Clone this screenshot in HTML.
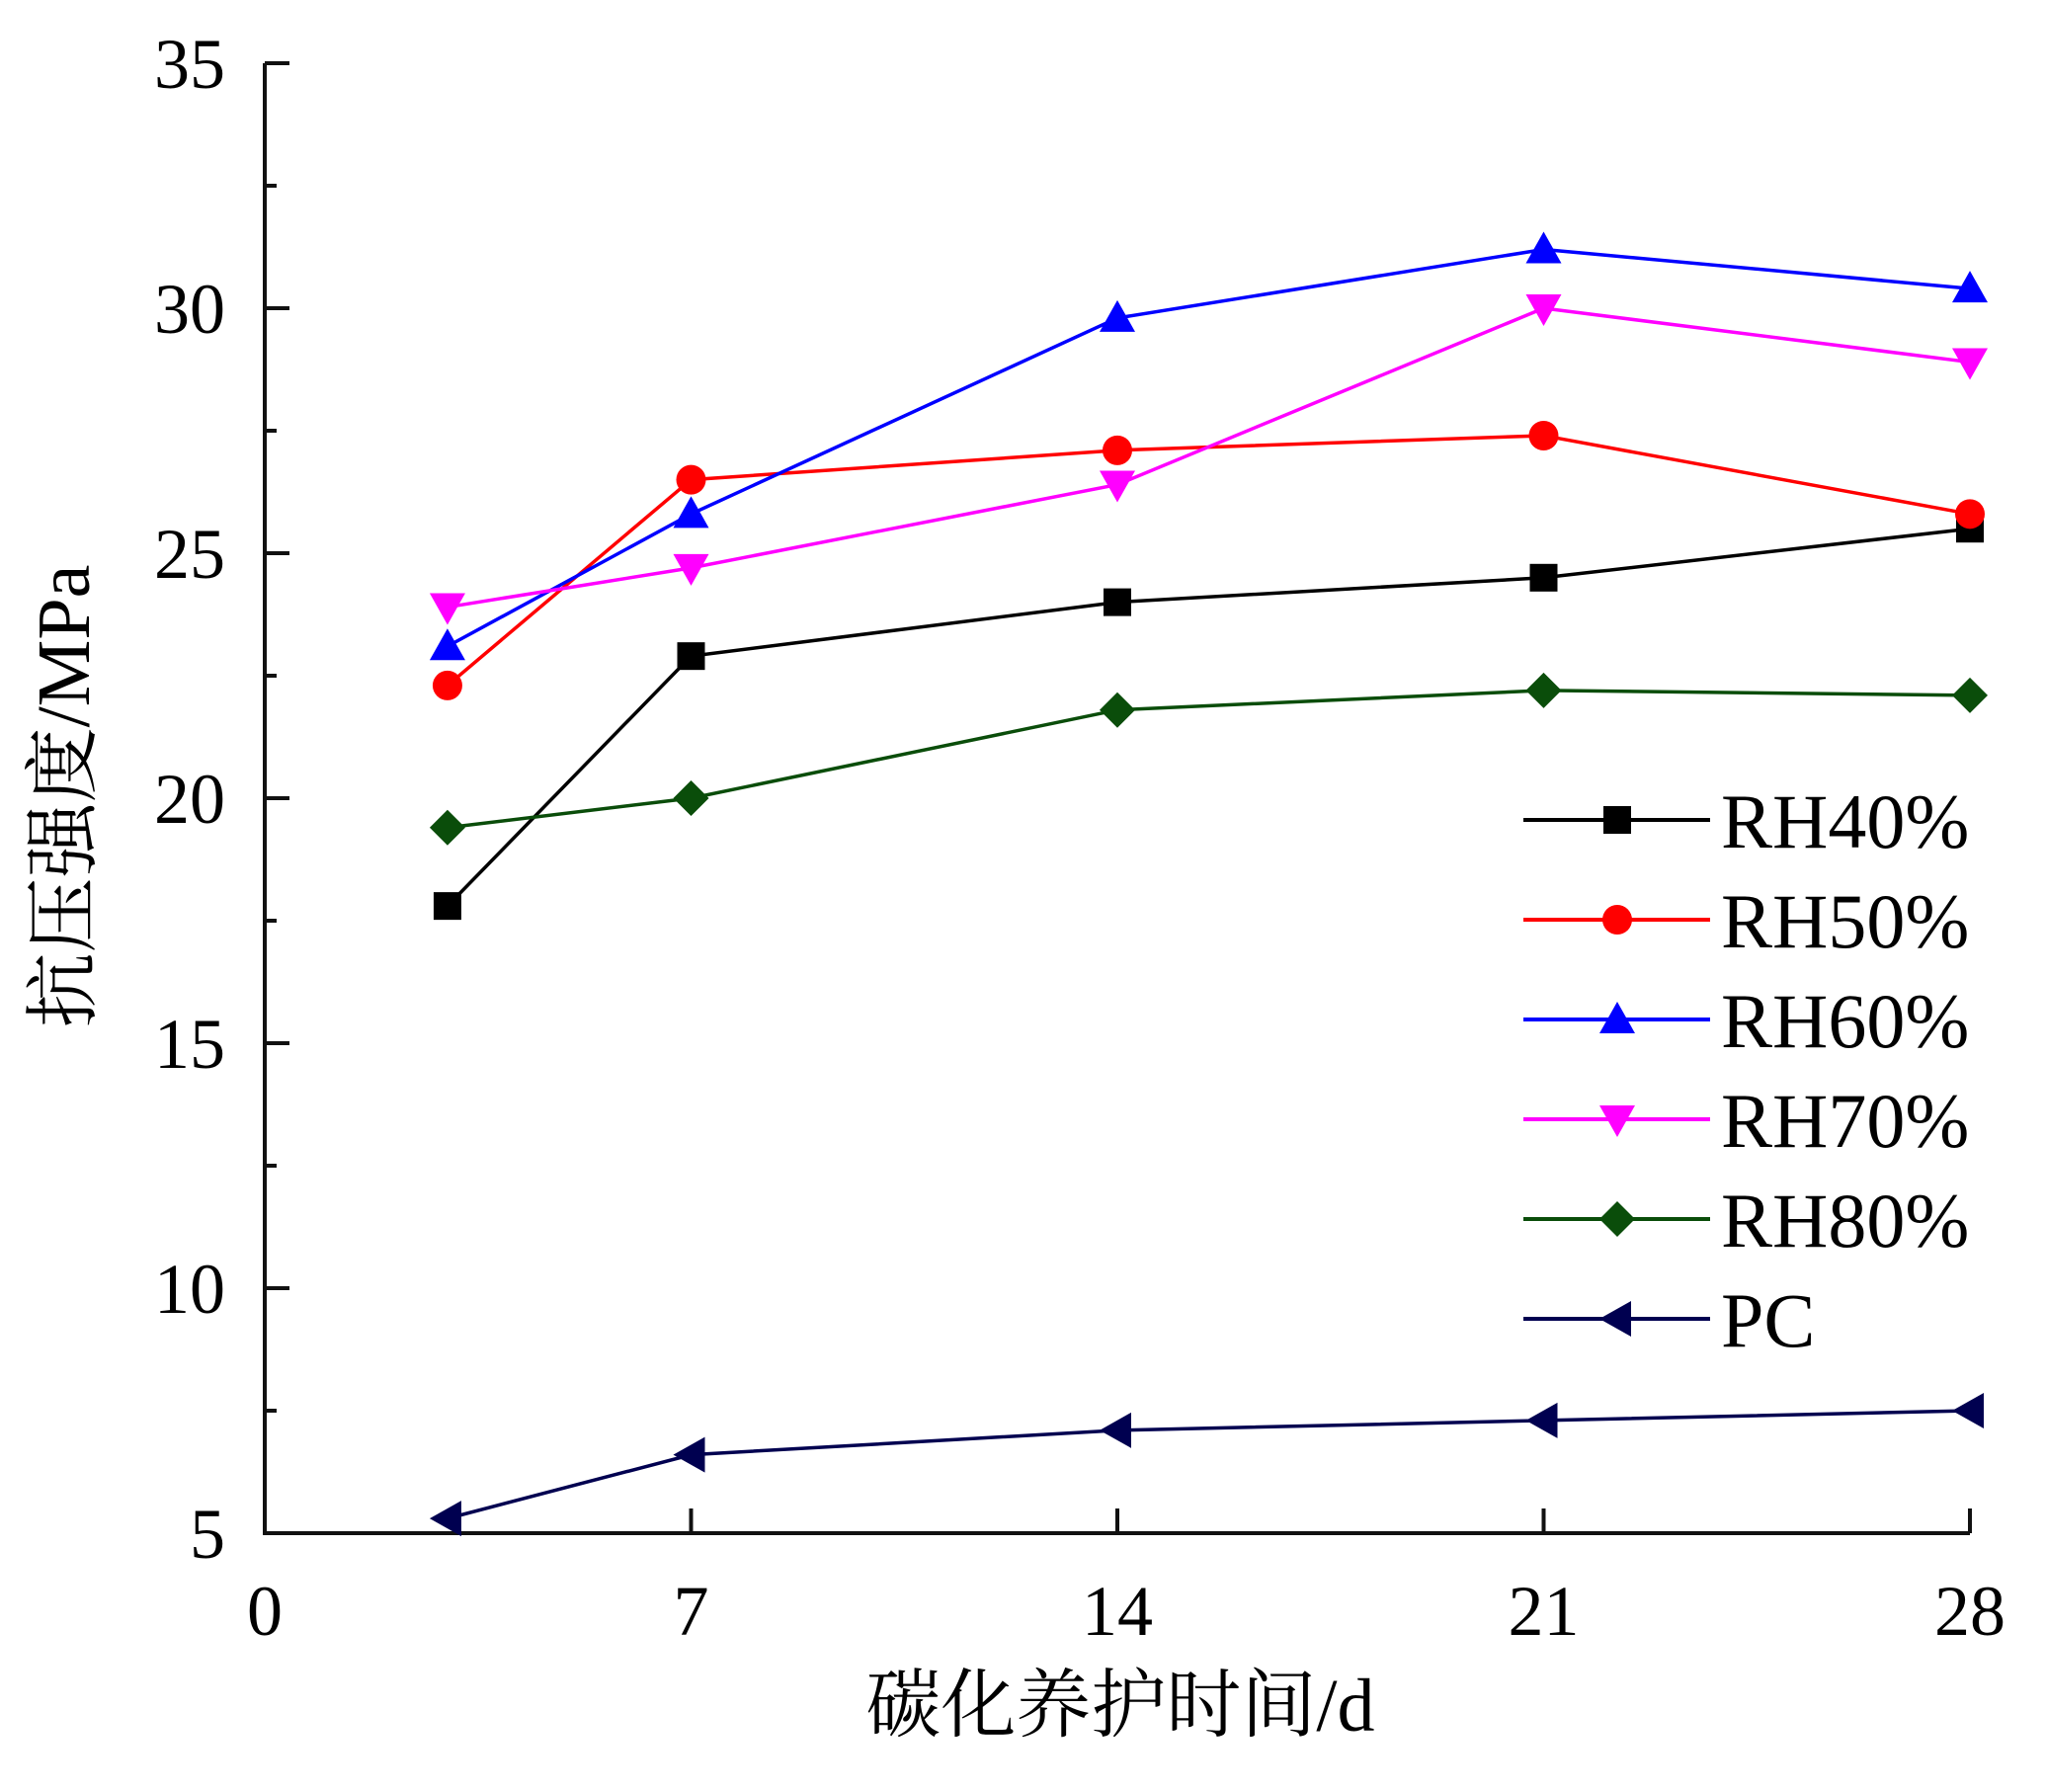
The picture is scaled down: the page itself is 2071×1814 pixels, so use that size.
<!DOCTYPE html>
<html><head><meta charset="utf-8"><style>
body{margin:0;background:#fff}
svg text{font-family:"Liberation Serif","Noto Serif CJK SC",serif;fill:#000}
</style></head><body>
<svg id="chart" width="2071" height="1809" viewBox="0 0 2071 1809" xmlns="http://www.w3.org/2000/svg">
<g id="axes"></g>
<g id="plot"></g>
<g id="legend"></g>
<text x="1134" y="1752" font-size="76" text-anchor="middle">碳化养护时间/d</text>
<text transform="translate(90,806) rotate(-90)" font-size="76" text-anchor="middle">抗压强度/MPa</text>
</svg>
<script>
const days = [3, 7, 14, 21, 28];
const rh40 = [17.8, 22.9, 24.0, 24.5, 25.5];
const rh50 = [22.3, 26.5, 27.1, 27.4, 25.8];
const rh60 = [23.1, 25.8, 29.8, 31.2, 30.4];
const rh70 = [23.9, 24.7, 26.4, 30.0, 28.9];
const rh80 = [19.4, 20.0, 21.8, 22.2, 22.1];
const pc = [5.3, 6.6, 7.1, 7.3, 7.5];
const xTicks = [0, 7, 14, 21, 28];
const yTicks = [5, 10, 15, 20, 25, 30, 35];
const seriesNames = ["RH40%", "RH50%", "RH60%", "RH70%", "RH80%", "PC"];

const NS = "http://www.w3.org/2000/svg";
const X0 = 268, X1 = 1994, Y0 = 1552, Y1 = 64;
const xs = d => X0 + (d - 0) / 28 * (X1 - X0);
const ys = v => Y0 - (v - 5) / 30 * (Y0 - Y1);
function mk(tag, attrs, parent) {
  const e = document.createElementNS(NS, tag);
  for (const k in attrs) e.setAttribute(k, attrs[k]);
  parent.appendChild(e); return e;
}
const axes = document.getElementById('axes');
const plot = document.getElementById('plot');
const legend = document.getElementById('legend');

let a = mk('path', {d: `M${X0},${Y1} V${Y0} H${X1}`, stroke: '#111', 'stroke-width': 4, fill: 'none'}, axes);


for (let v = 5; v <= 35; v += 2.5) {
  const major = (v % 5 === 0);
  const t = mk('line', {x1: X0, x2: X0 + (major ? 25 : 12), y1: ys(v), y2: ys(v), stroke: '#111', 'stroke-width': 4}, axes);
  
  
}
yTicks.forEach(v => {
  const t = mk('text', {x: 228, y: ys(v) + 25, 'font-size': 72, 'text-anchor': 'end'}, axes);
  t.textContent = v;
  
  
});
xTicks.forEach(d => {
  const t = mk('line', {x1: xs(d), x2: xs(d), y1: Y0, y2: Y0 - 25, stroke: '#111', 'stroke-width': 4}, axes);
  
  
  const l = mk('text', {x: xs(d), y: 1655, 'font-size': 72, 'text-anchor': 'middle'}, axes);
  l.textContent = d;
  
  
});

function marker(type, cx, cy, color, parent) {
  const s = 14;
  let e;
  if (type === 'square') e = mk('rect', {x: cx - s, y: cy - s, width: 2 * s, height: 2 * s, fill: color}, parent);
  else if (type === 'circle') e = mk('circle', {cx, cy, r: s + 1, fill: color}, parent);
  else if (type === 'up') e = mk('polygon', {points: `${cx},${cy - s - 4} ${cx + s + 4},${cy + s} ${cx - s - 4},${cy + s}`, fill: color}, parent);
  else if (type === 'down') e = mk('polygon', {points: `${cx - s - 4},${cy - s} ${cx + s + 4},${cy - s} ${cx},${cy + s + 4}`, fill: color}, parent);
  else if (type === 'diamond') e = mk('polygon', {points: `${cx},${cy - s - 4} ${cx + s + 4},${cy} ${cx},${cy + s + 4} ${cx - s - 4},${cy}`, fill: color}, parent);
  else e = mk('polygon', {points: `${cx - s - 4},${cy} ${cx + s},${cy - s - 4} ${cx + s},${cy + s + 4}`, fill: color}, parent);
  return e;
}

const allSeries = [rh40, rh50, rh60, rh70, rh80, pc];
const colors = ['#000000', '#ff0000', '#0000ff', '#ff00ff', '#0a4d0a', '#000050'];
const markers = ['square', 'circle', 'up', 'down', 'diamond', 'left'];
const keys = ['rh40', 'rh50', 'rh60', 'rh70', 'rh80', 'pc'];

allSeries.forEach((vals, i) => {
  const g = mk('g', {}, plot);
  
  
  const pts = vals.map((v, j) => xs(days[j]) + ',' + ys(v)).join(' ');
  const pl = mk('polyline', {points: pts, fill: 'none', stroke: colors[i], 'stroke-width': 3.5}, g);
  
  
  vals.forEach((v, j) => {
    const m = marker(markers[i], xs(days[j]), ys(v), colors[i], g);
    
    
  });
  const ly = 830 + i * 101;
  const lg = mk('g', {}, legend);
  
  
  mk('line', {x1: 1542, x2: 1731, y1: ly, y2: ly, stroke: colors[i], 'stroke-width': 4}, lg);
  marker(markers[i], 1637, ly, colors[i], lg);
  const t = mk('text', {x: 1742, y: ly + 28, 'font-size': 78}, lg);
  t.textContent = seriesNames[i];
});
</script>
</body></html>
